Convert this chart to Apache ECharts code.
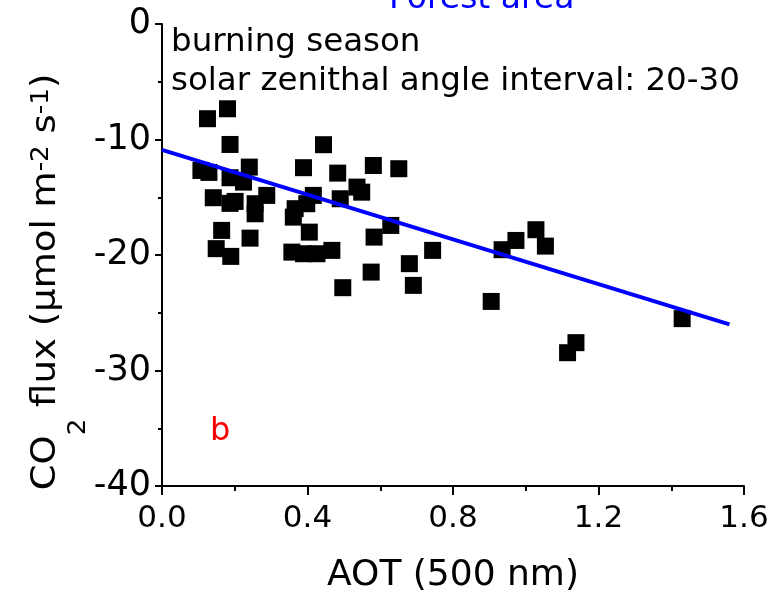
<!DOCTYPE html>
<html>
<head>
<meta charset="utf-8">
<title>CO2 flux vs AOT</title>
<script src="https://cdn.jsdelivr.net/npm/echarts@6/dist/echarts.min.js"></script>
<style>
  html, body { margin: 0; padding: 0; background: #ffffff; }
  #chart { width: 783px; height: 607px; }
</style>
</head>
<body>
<div id="chart"></div>
<script>
// Aerosol optical thickness at 500 nm for each observation
const aot = [
  0.125, 0.180, 0.187, 0.444, 0.107, 0.129, 0.240, 0.187, 0.224, 0.389,
  0.483, 0.581, 0.651, 0.141, 0.187, 0.201, 0.256, 0.288, 0.256, 0.416,
  0.398, 0.366, 0.361, 0.490, 0.536, 0.549, 0.164, 0.405, 0.242, 0.629,
  0.583, 0.149, 0.189, 0.357, 0.389, 0.426, 0.467, 0.744, 0.680, 0.575,
  0.691, 0.497, 0.905, 0.935, 0.973, 1.028, 1.054, 1.138, 1.115, 1.430
];
// Net CO2 flux (µmol m-2 s-1) for the same observations
const flux = [
  -8.20, -7.34, -10.43, -10.45, -12.68, -12.85, -12.39, -13.31, -13.69, -12.44,
  -12.91, -12.25, -12.53, -15.04, -15.53, -15.36, -15.56, -14.84, -16.43, -14.84,
  -15.56, -15.99, -16.72, -15.13, -14.12, -14.56, -17.87, -18.02, -18.54, -17.44,
  -18.45, -19.45, -20.12, -19.75, -19.89, -19.89, -19.60, -19.60, -20.75, -21.48,
  -22.63, -22.83, -24.02, -19.54, -18.74, -17.81, -19.23, -27.59, -28.46, -25.51
];
// Linear fit end points
const fitAot = [0, 1.56];
const fitFlux = [-10.9, -26.0];

// Axis ranges and tick spacing
const xRange = [0, 1.6];
const xStep = 0.4;
const yRange = [-40, 0];
const yStep = 10;

const titleText = 'Forest area';
const noteLines = ['burning season', 'solar zenithal angle interval: 20-30'];
const panelLetter = 'b';
const xName = 'AOT (500 nm)';

const points = aot.map((x, i) => [x, flux[i]]);
const fitPoints = fitAot.map((x, i) => [x, fitFlux[i]]);

const FONT = 'DejaVu Sans';

const chart = echarts.init(document.getElementById('chart'), null, { renderer: 'canvas' });

chart.setOption({
  animation: false,
  backgroundColor: '#ffffff',
  grid: { left: 162, right: 39, top: 24, bottom: 121, containLabel: false },
  xAxis: {
    type: 'value',
    min: xRange[0], max: xRange[1], interval: xStep,
    name: xName,
    nameLocation: 'middle',
    nameGap: 72,
    nameTextStyle: { fontFamily: FONT, fontSize: 36, color: '#000' },
    axisLine: { show: true, onZero: false, lineStyle: { color: '#000', width: 2 } },
    axisTick: { show: true, inside: false, length: 9, lineStyle: { color: '#000', width: 2 } },
    minorTick: { show: true, splitNumber: 2, length: 5, lineStyle: { color: '#000', width: 2 } },
    splitLine: { show: false },
    minorSplitLine: { show: false },
    axisLabel: {
      fontFamily: FONT, fontSize: 31, color: '#000', margin: 17,
      formatter: v => v.toFixed(1)
    }
  },
  yAxis: {
    type: 'value',
    min: yRange[0], max: yRange[1], interval: yStep,
    axisLine: { show: true, onZero: false, lineStyle: { color: '#000', width: 2 } },
    axisTick: { show: true, inside: false, length: 7, lineStyle: { color: '#000', width: 2 } },
    minorTick: { show: true, splitNumber: 2, length: 4, lineStyle: { color: '#000', width: 2 } },
    splitLine: { show: false },
    minorSplitLine: { show: false },
    axisLabel: { fontFamily: FONT, fontSize: 35, color: '#000', margin: 11 }
  },
  graphic: [
    {
      type: 'text', x: 389, y: -1, silent: true,
      style: { text: titleText, fill: '#0000ff', font: '33px "DejaVu Sans"',
               textAlign: 'left', textVerticalAlign: 'middle', align: 'left', verticalAlign: 'middle' }
    },
    {
      type: 'text', x: 171, y: 43, silent: true,
      style: { text: noteLines[0], fill: '#000', font: '32.5px "DejaVu Sans"',
               textAlign: 'left', textVerticalAlign: 'middle', align: 'left', verticalAlign: 'middle' }
    },
    {
      type: 'text', x: 171, y: 82, silent: true,
      style: { text: noteLines[1], fill: '#000', font: '32.5px "DejaVu Sans"',
               textAlign: 'left', textVerticalAlign: 'middle', align: 'left', verticalAlign: 'middle' }
    },
    {
      type: 'text', x: 210, y: 432, silent: true,
      style: { text: panelLetter, fill: '#ff0000', font: '32px "DejaVu Sans"',
               textAlign: 'left', textVerticalAlign: 'middle', align: 'left', verticalAlign: 'middle' }
    },
    {
      // y-axis title, reading bottom to top, with sub- and superscripts
      type: 'text', x: 46, y: 282, rotation: Math.PI / 2, scaleX: 1.09, silent: true,
      style: {
        text: '{n|CO}{sub|2}{n| flux (μmol m}{sup|-2}{n| s}{sup|-1}{n|)}',
        textAlign: 'center', textVerticalAlign: 'middle', align: 'center', verticalAlign: 'middle',
        fill: '#000',
        rich: {
          n: { fontFamily: FONT, fontSize: 34, lineHeight: 34, fill: '#000', color: '#000' },
          sub: { fontFamily: FONT, fontSize: 24, lineHeight: 24, padding: [66, 0, 0, 0], fill: '#000', color: '#000' },
          sup: { fontFamily: FONT, fontSize: 24, lineHeight: 24, padding: [0, 0, 8, 0], fill: '#000', color: '#000' }
        }
      }
    }
  ],
  series: [
    {
      type: 'scatter',
      data: points,
      symbol: 'rect',
      symbolSize: 17,
      itemStyle: { color: '#000000', opacity: 1 },
      z: 2
    },
    {
      type: 'line',
      data: fitPoints,
      symbol: 'none',
      lineStyle: { color: '#0000ff', width: 4 },
      z: 3
    }
  ]
});
</script>
</body>
</html>
